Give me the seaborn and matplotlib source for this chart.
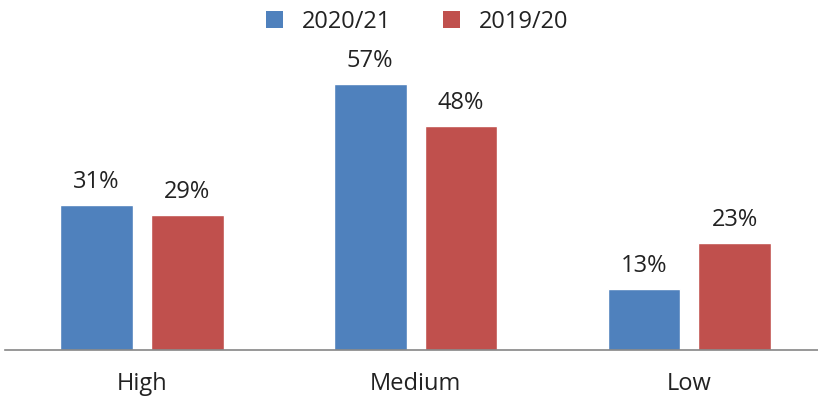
import matplotlib
matplotlib.use("Agg")
import matplotlib.pyplot as plt
import seaborn as sns
import pandas as pd
from matplotlib.patches import Patch

categories = ["High", "Medium", "Low"]
series_names = ["2020/21", "2019/20"]
values_2021 = [31, 57, 13]
values_1920 = [29, 48, 23]
colors = ["#4F81BD", "#C0504D"]

df = pd.DataFrame({
    "category": categories * 2,
    "series": [series_names[0]] * 3 + [series_names[1]] * 3,
    "value": values_2021 + values_1920,
})

sns.set_theme(style="white")
plt.rcParams["font.family"] = ["Open Sans", "DejaVu Sans"]

fig = plt.figure(figsize=(8.18, 3.97), dpi=100)
ax = fig.add_axes([5 / 818, 47 / 397, 1 - 5 / 818, 350 / 397])

sns.barplot(data=df, x="category", y="value", hue="series", order=categories,
            hue_order=series_names, palette=colors, width=0.664, gap=0.2,
            saturation=1, ax=ax, legend=False)

ax.set_xlim(-0.5, 2.47)
ax.set_ylim(0, 75)
for cont in ax.containers:
    ax.bar_label(cont, labels=[f"{v:.0f}%" for v in cont.datavalues],
                 padding=8, fontsize=17, color="#222222")

ax.set_xlabel("")
ax.set_ylabel("")
ax.set_yticks([])
ax.tick_params(axis="x", length=0, pad=16, labelsize=17, labelcolor="#222222")
for s in ["top", "right", "left"]:
    ax.spines[s].set_visible(False)
ax.spines["bottom"].set_color("#868686")
ax.spines["bottom"].set_linewidth(1.2)

handles = [Patch(facecolor=c, edgecolor="none") for c in colors]
fig.legend(handles, series_names, loc="center", bbox_to_anchor=(0.51, 1 - 22 / 397),
           ncol=2, frameon=False, fontsize=17, handlelength=0.7, handleheight=0.7,
           handletextpad=0.8, columnspacing=2.2, labelcolor="#222222")

fig.savefig("out.png", dpi=100)
